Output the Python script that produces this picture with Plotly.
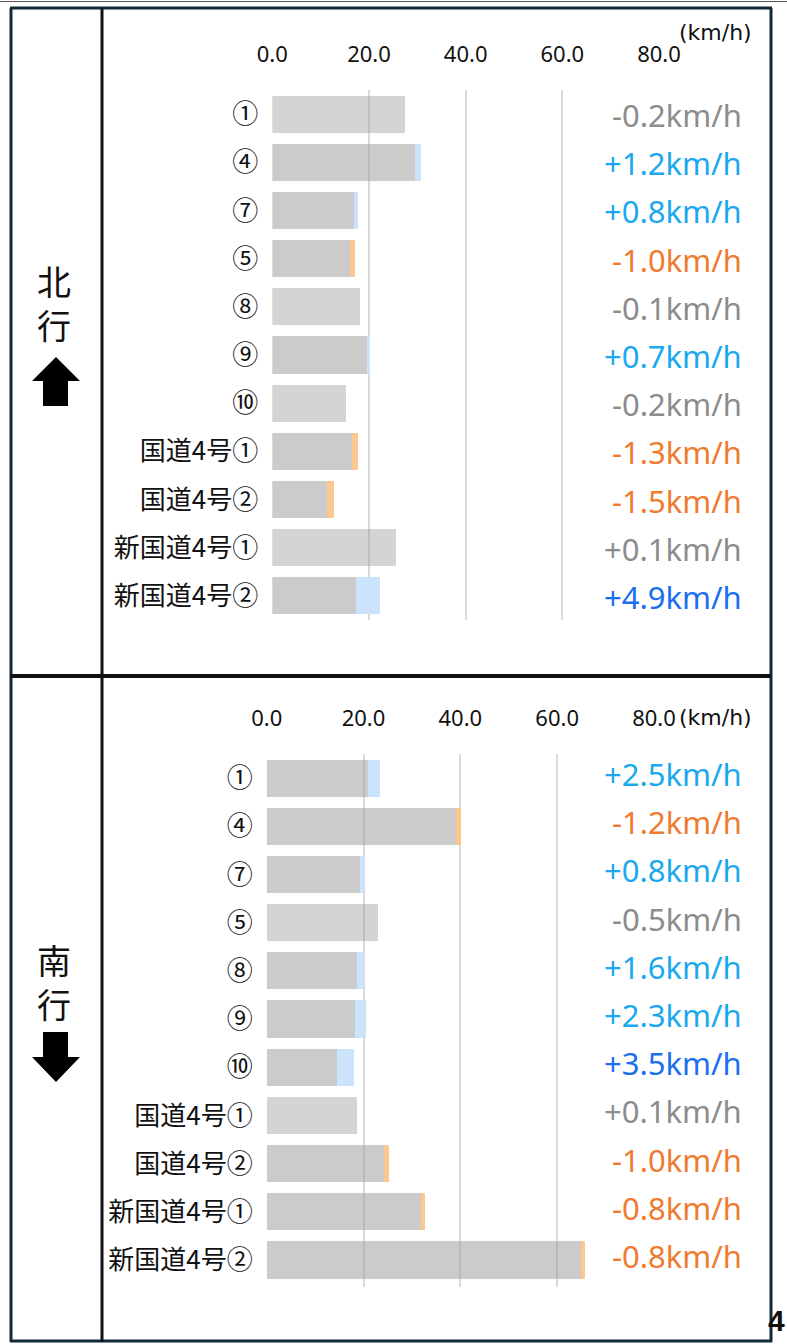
import plotly.graph_objects as go

W, H = 787, 1344

categories = ["①", "④", "⑦", "⑤", "⑧", "⑨", "⑩", "国道4号①", "国道4号②", "新国道4号①", "新国道4号②"]

# northbound (北行): speed after (km/h) and change (km/h)
north_after = [27.5, 30.8, 17.8, 16.1, 18.2, 20.3, 15.3, 16.4, 11.3, 25.5, 22.3]
north_change = [-0.2, 1.2, 0.8, -1.0, -0.1, 0.7, -0.2, -1.3, -1.5, 0.1, 4.9]

# southbound (南行)
south_after = [23.5, 39.0, 20.1, 23.0, 20.2, 20.6, 18.1, 18.6, 24.2, 31.9, 64.9]
south_change = [2.5, -1.2, 0.8, -0.5, 1.6, 2.3, 3.5, 0.1, -1.0, -0.8, -0.8]

x_ticks = [0, 20, 40, 60, 80]

FONT_LAT = "Noto Sans, Noto Sans CJK JP"
FONT_CJK = "Noto Sans CJK JP"


def px_x(v):
    return v / W


def px_y(v):
    return 1 - v / H


def text_color(d):
    if abs(d) <= 0.5:
        return "#8c8c8c"
    if d >= 3:
        return "#1a6ef0"
    if d > 0:
        return "#1aa8ee"
    return "#ef7a30"


def split(after, change):
    base, ext, ext_col, base_col = [], [], [], []
    for a, d in zip(after, change):
        before = a - d
        if abs(d) <= 0.5:
            base.append(a)
            ext.append(0)
            ext_col.append("rgba(0,0,0,0)")
            base_col.append("rgba(160,160,160,0.45)")
        else:
            base.append(min(a, before))
            ext.append(abs(d))
            ext_col.append("#cbe3fb" if d > 0 else "#fdc792")
            base_col.append("rgba(160,160,160,0.55)")
    return base, ext, ext_col, base_col


fig = go.Figure()

panels = [
    (north_after, north_change, "x", "y"),
    (south_after, south_change, "x2", "y2"),
]
for after, change, xa, ya in panels:
    base, ext, ext_col, base_col = split(after, change)
    fig.add_trace(go.Bar(y=categories, x=base, orientation="h", marker=dict(color=base_col, line=dict(width=0)),
                         xaxis=xa, yaxis=ya, showlegend=False, hoverinfo="skip"))
    fig.add_trace(go.Bar(y=categories, x=ext, orientation="h", marker=dict(color=ext_col, line=dict(width=0)),
                         xaxis=xa, yaxis=ya, showlegend=False, hoverinfo="skip"))

axis_common = dict(range=[0, 80], side="top", tickvals=x_ticks, tickformat=".1f", showgrid=True,
                   gridcolor="#d9d9d9", gridwidth=2, zeroline=False, showline=False, ticks="",
                   tickfont=dict(family=FONT_LAT, size=22, color="#111111"), ticklabelstandoff=23,
                   fixedrange=True, automargin=False)
yaxis_common = dict(type="category", categoryorder="array", categoryarray=categories, autorange="reversed",
                    showgrid=False, zeroline=False, showline=False, ticks="",
                    tickfont=dict(family=FONT_CJK, size=26, color="#111111"), ticklabelstandoff=13,
                    fixedrange=True, automargin=False)

fig.update_layout(
    width=W, height=H, autosize=False, margin=dict(l=0, r=0, t=0, b=0, pad=0, autoexpand=False),
    paper_bgcolor="white", plot_bgcolor="white",
    barmode="stack", bargap=0.23,
    xaxis=dict(domain=[px_x(272.3), px_x(659)], anchor="y", **axis_common),
    yaxis=dict(domain=[px_y(620), px_y(90)], anchor="x", **yaxis_common),
    xaxis2=dict(domain=[px_x(266.7), px_x(654)], anchor="y2", **axis_common),
    yaxis2=dict(domain=[px_y(1287), px_y(754)], anchor="x2", **yaxis_common),
)

annotations = []
for change, ya, shift in [(north_change, "y", -1), (south_change, "y2", 4)]:
    for c, d in zip(categories, change):
        annotations.append(dict(x=px_x(744), xref="paper", y=c, yref=ya, xanchor="right", yanchor="middle",
                                text=f"{d:+.1f}km/h", showarrow=False, yshift=shift,
                                font=dict(family=FONT_LAT, size=31, color=text_color(d))))

# unit labels
annotations.append(dict(x=px_x(754), y=px_y(32), xref="paper", yref="paper", xanchor="right", yanchor="middle",
                        text="(km/h)", showarrow=False, font=dict(family="DejaVu Sans", size=22, color="#111111")))
annotations.append(dict(x=px_x(754), y=px_y(717), xref="paper", yref="paper", xanchor="right", yanchor="middle",
                        text="(km/h)", showarrow=False, font=dict(family="DejaVu Sans", size=22, color="#111111")))

# direction labels
for txt, yy in [("北<br>行", 302), ("南<br>行", 981)]:
    annotations.append(dict(x=px_x(54), y=px_y(yy), xref="paper", yref="paper", xanchor="center", yanchor="middle",
                            text=txt, showarrow=False, font=dict(family=FONT_CJK, size=34, color="#111111")))

# page number
annotations.append(dict(x=px_x(787), y=px_y(1320), xref="paper", yref="paper", xanchor="right", yanchor="middle",
                        text="<b>4</b>", showarrow=False,
                        font=dict(family="Liberation Sans", size=30, color="#111111")))

fig.update_layout(annotations=annotations)


def path(points):
    return "M " + " L ".join(f"{px_x(x)},{px_y(y)}" for x, y in points) + " Z"


shapes = []
# arrows
shapes.append(dict(type="path", xref="paper", yref="paper", line=dict(width=0), fillcolor="black",
                   path=path([(56, 357), (80, 381), (68, 381), (68, 406), (43, 406), (43, 381), (32, 381)])))
shapes.append(dict(type="path", xref="paper", yref="paper", line=dict(width=0), fillcolor="black",
                   path=path([(43, 1032), (68, 1032), (68, 1057), (80, 1057), (56, 1082), (32, 1057), (43, 1057)])))


def line(x0, y0, x1, y1, color, width):
    return dict(type="line", xref="paper", yref="paper", x0=px_x(x0), y0=px_y(y0), x1=px_x(x1), y1=px_y(y1),
                line=dict(color=color, width=width))


NAVY = "#0f2a3c"
shapes += [
    line(0, 1.5, 787, 1.5, "#555555", 1),
    line(10, 8, 772, 8, NAVY, 3),
    line(11, 8, 11, 1342, NAVY, 3),
    line(771, 8, 771, 1342, NAVY, 3),
    line(10, 1341, 772, 1341, NAVY, 3),
    line(102, 8, 102, 1342, "#111111", 3),
    line(10, 676, 771, 676, "#111111", 4),
]
fig.update_layout(shapes=shapes)

post = ("document.documentElement.style.margin='0';document.body.style.margin='0';"
        "document.body.style.padding='0';document.body.style.overflow='hidden';"
        "document.documentElement.style.overflow='hidden';")

fig.write_html("out.html", config={"responsive": False, "displayModeBar": False}, post_script=post)
